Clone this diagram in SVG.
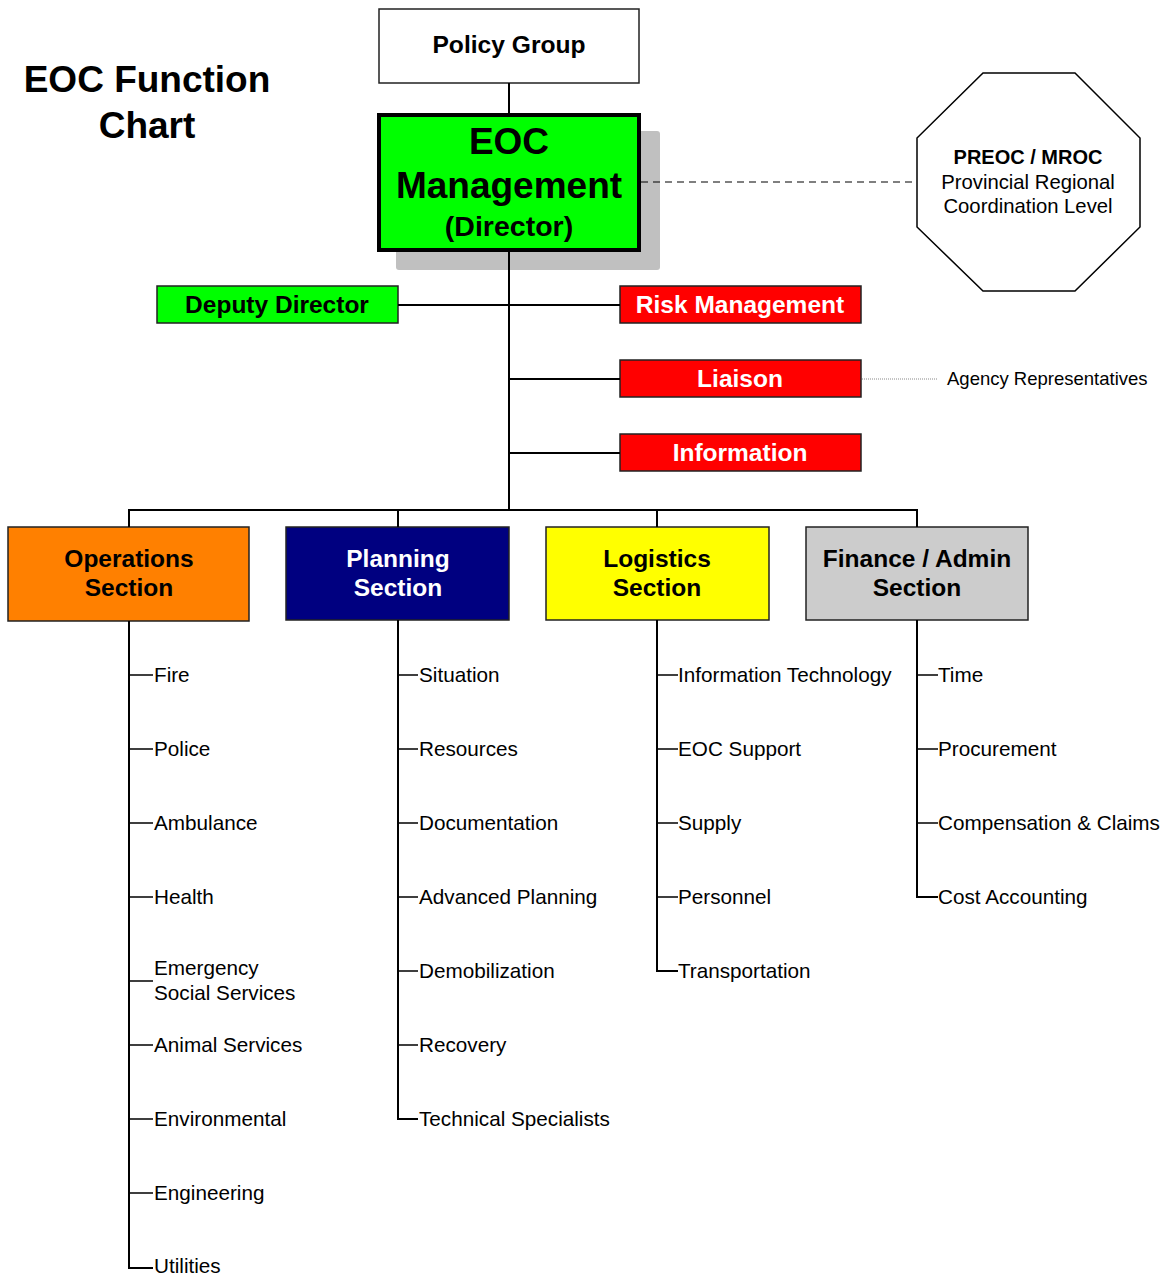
<svg xmlns="http://www.w3.org/2000/svg" width="1163" height="1276" viewBox="0 0 1163 1276">
<style>
text{font-family:"Liberation Sans",Arial,sans-serif;}
.b{font-weight:bold;}
.box{stroke:#222;stroke-width:1.5;}
.c{stroke:#000;stroke-width:2;fill:none;}
.it{font-size:20.7px;fill:#000;}
.sec{font-size:24.5px;font-weight:bold;text-anchor:middle;}
.red{fill:#FF0000;}
.rt{font-size:24.5px;font-weight:bold;fill:#fff;text-anchor:middle;}
</style>
<rect width="1163" height="1276" fill="#fff"/>
<g id="title">
<text x="147" y="92" class="b" font-size="37" text-anchor="middle">EOC Function</text>
<text x="147" y="138" class="b" font-size="37" text-anchor="middle">Chart</text>
</g>
<g id="policy-group">
<rect x="379" y="9" width="260" height="74" fill="#fff" class="box"/>
<text x="509" y="53" class="b" font-size="24.6" text-anchor="middle">Policy Group</text>
</g>
<g id="eoc-management">
<rect x="396" y="131" width="264" height="139" rx="3" fill="#C0C0C0"/>
<rect x="379" y="115" width="260" height="135" fill="#00FF00" stroke="#000" stroke-width="4"/>
<text x="509" y="154" class="b" font-size="37" text-anchor="middle">EOC</text>
<text x="509" y="198" class="b" font-size="37" text-anchor="middle">Management</text>
<text x="509" y="236" class="b" font-size="28.5" text-anchor="middle">(Director)</text>
</g>
<g id="preoc">
<polygon points="983,73 1075,73 1140,138 1140,227 1075,291 983,291 917,227 917,138" fill="#fff" stroke="#000" stroke-width="1.5"/>
<text x="1028" y="164" class="b" font-size="20" text-anchor="middle">PREOC / MROC</text>
<text x="1028" y="189" font-size="20.3" text-anchor="middle">Provincial Regional</text>
<text x="1028" y="213" font-size="20.3" text-anchor="middle">Coordination Level</text>
</g>
<g id="deputy-director">
<rect x="157" y="286" width="241" height="37" fill="#00FF00" class="box"/>
<text x="277" y="313" class="sec">Deputy Director</text>
</g>
<g id="risk-management">
<rect x="620" y="286" width="241" height="37" class="box red"/>
<text x="740" y="313" class="rt">Risk Management</text>
</g>
<g id="liaison">
<rect x="620" y="360" width="241" height="37" class="box red"/>
<text x="740" y="387" class="rt">Liaison</text>
</g>
<g id="agency-reps">
<text x="947" y="385" font-size="18.5">Agency Representatives</text>
</g>
<g id="information">
<rect x="620" y="434" width="241" height="37" class="box red"/>
<text x="740" y="461" class="rt">Information</text>
</g>
<g id="operations">
<rect x="8" y="527" width="241" height="94" fill="#FF8000" class="box"/>
<text x="129" y="567" class="sec">Operations</text>
<text x="129" y="596" class="sec">Section</text>
</g>
<g id="planning">
<rect x="286" y="527" width="223" height="93" fill="#000080" class="box"/>
<text x="398" y="567" class="sec" fill="#fff">Planning</text>
<text x="398" y="596" class="sec" fill="#fff">Section</text>
</g>
<g id="logistics">
<rect x="546" y="527" width="223" height="93" fill="#FFFF00" class="box"/>
<text x="657" y="567" class="sec">Logistics</text>
<text x="657" y="596" class="sec">Section</text>
</g>
<g id="finance">
<rect x="806" y="527" width="222" height="93" fill="#CCCCCC" class="box"/>
<text x="917" y="567" class="sec">Finance / Admin</text>
<text x="917" y="596" class="sec">Section</text>
</g>
<g id="operations-items">
<text x="154" y="682" class="it">Fire</text>
<text x="154" y="756" class="it">Police</text>
<text x="154" y="830" class="it">Ambulance</text>
<text x="154" y="904" class="it">Health</text>
<text x="154" y="975" class="it">Emergency</text>
<text x="154" y="1000" class="it">Social Services</text>
<text x="154" y="1052" class="it">Animal Services</text>
<text x="154" y="1126" class="it">Environmental</text>
<text x="154" y="1200" class="it">Engineering</text>
<text x="154" y="1273" class="it">Utilities</text>
</g>
<g id="planning-items">
<text x="419" y="682" class="it">Situation</text>
<text x="419" y="756" class="it">Resources</text>
<text x="419" y="830" class="it">Documentation</text>
<text x="419" y="904" class="it">Advanced Planning</text>
<text x="419" y="978" class="it">Demobilization</text>
<text x="419" y="1052" class="it">Recovery</text>
<text x="419" y="1126" class="it">Technical Specialists</text>
</g>
<g id="logistics-items">
<text x="678" y="682" class="it">Information Technology</text>
<text x="678" y="756" class="it">EOC Support</text>
<text x="678" y="830" class="it">Supply</text>
<text x="678" y="904" class="it">Personnel</text>
<text x="678" y="978" class="it">Transportation</text>
</g>
<g id="finance-items">
<text x="938" y="682" class="it">Time</text>
<text x="938" y="756" class="it">Procurement</text>
<text x="938" y="830" class="it">Compensation &amp; Claims</text>
<text x="938" y="904" class="it">Cost Accounting</text>
</g>
<g id="connectors">
<line class="c" x1="509" y1="83" x2="509" y2="113"/>
<line x1="641" y1="182" x2="917" y2="182" stroke="#000" stroke-width="1.2" stroke-dasharray="7,5"/>
<line class="c" x1="509" y1="252" x2="509" y2="510"/>
<line class="c" x1="398" y1="305" x2="620" y2="305"/>
<line class="c" x1="509" y1="379" x2="620" y2="379"/>
<line class="c" x1="509" y1="453" x2="620" y2="453"/>
<line x1="862" y1="379" x2="937" y2="379" stroke="#888" stroke-width="1" stroke-dasharray="1,1"/>
<polyline class="c" points="129,527 129,510 917,510 917,527"/>
<line class="c" x1="398" y1="510" x2="398" y2="527"/>
<line class="c" x1="657" y1="510" x2="657" y2="527"/>
<g stroke="#000" stroke-width="2" fill="none">
<polyline points="129,621 129,1268 153,1268"/>
<path d="M129 675H153M129 749H153M129 823H153M129 897H153M129 981H153M129 1045H153M129 1119H153M129 1193H153" stroke-width="1.5"/>
<polyline points="398,620 398,1119 418,1119"/>
<path d="M398 675H418M398 749H418M398 823H418M398 897H418M398 971H418M398 1045H418" stroke-width="1.5"/>
<polyline points="657,620 657,971 678,971"/>
<path d="M657 675H678M657 749H678M657 823H678M657 897H678" stroke-width="1.5"/>
<polyline points="917,620 917,897 938,897"/>
<path d="M917 675H938M917 749H938M917 823H938" stroke-width="1.5"/>
</g>
</g>
</svg>
